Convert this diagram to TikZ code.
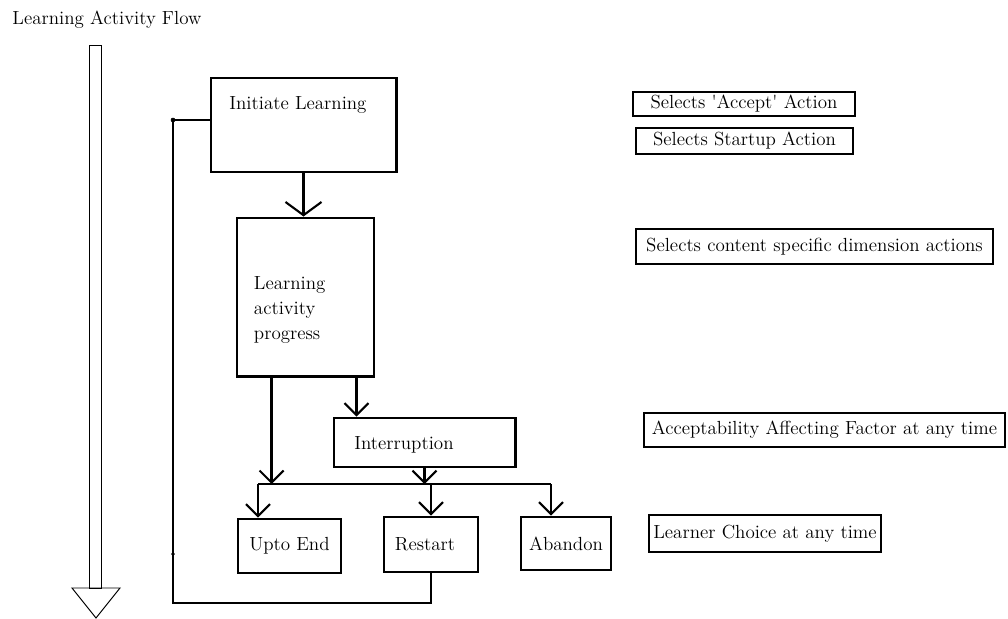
\documentclass[tikz,border=0pt]{standalone}
\usepackage{tikz}
\usetikzlibrary{calc, arrows.meta}
\tikzstyle{stepbox} = [rectangle, draw, line width=2.1pt]
\tikzstyle{note} = [rectangle, draw, line width=0.9pt, inner sep=0pt]
\tikzstyle{connector} = [draw, line width=2.1pt, -{Straight Barb[length=0.3cm, width=0.6cm, line width=1.5pt]}]
\tikzstyle{wideconnector} = [draw, line width=2.1pt, -{Straight Barb[length=0.33cm, width=0.9cm, line width=1.5pt]}]
\tikzstyle{link} = [draw, line width=2.1pt]

\begin{document}
\begin{tikzpicture}[x=0.025cm, y=-0.025cm, every node/.style={font=\fontsize{13.5}{17.8}\selectfont}]
        \useasboundingbox (0,0) rectangle (1008,619);

        \node (title) at (107,20) {Learning Activity Flow};
        \draw[line width=0.7pt] (89,45) rectangle (101,588);
        \draw[line width=0.7pt] (72,588) -- (120,588) -- (96,618) -- cycle;

        \node[stepbox, minimum width=4.625cm, minimum height=2.35cm] (Initiate) at (303.5,125) {};
        \node (InitiateText) at (298,105) {Initiate Learning};

        \node[stepbox, minimum width=3.425cm, minimum height=3.95cm] (Progress) at (305.5,297) {};
        \node[anchor=west, align=left] (ProgressText) at (249,310) {Learning\\activity\\progress};

        \node[stepbox, minimum width=4.525cm, minimum height=1.225cm] (Interruption) at (424.5,442.5) {};
        \node (InterruptionText) at (404,445) {Interruption};

        \node[stepbox, minimum width=2.575cm, minimum height=1.35cm] (UptoEnd) at (289.5,546) {Upto End};
        \node[stepbox, minimum width=2.35cm, minimum height=1.375cm] (Restart) at (431,544.5) {};
        \node (RestartText) at (425,544) {Restart};
        \node[stepbox, minimum width=2.25cm, minimum height=1.325cm] (Abandon) at (566,543.5) {Abandon};

        \node[note, minimum width=5.55cm, minimum height=0.6cm] (AcceptNote) at (744,104) {Selects \textquotesingle Accept\textquotesingle{} Action};
        \node[note, minimum width=5.425cm, minimum height=0.65cm] (StartupNote) at (744.5,141) {Selects Startup Action};
        \node[note, minimum width=8.925cm, minimum height=0.875cm] (ContentNote) at (814.5,246.5) {Selects content specific dimension actions};
        \node[note, minimum width=9.025cm, minimum height=0.85cm] (FactorNote) at (824.5,430) {Acceptability Affecting Factor at any time};
        \node[note, minimum width=5.8cm, minimum height=0.925cm] (ChoiceNote) at (765,533.5) {Learner Choice at any time};

        \coordinate (busL) at (258,484);
        \coordinate (busR) at (551,484);
        \coordinate (back) at (173,603);
        \coordinate (entry) at (173,120);
        \coordinate (progL) at ($(Progress.south west)+(36,0)$);
        \coordinate (progR) at ($(Progress.south east)+(-19,0)$);

        \draw[wideconnector] (Initiate.south) -- (Initiate.south |- Progress.north);
        \draw[connector] (progL) -- (progL |- busL);
        \draw[connector] (progR) -- (progR |- Interruption.north);
        \draw[connector] (Interruption.south) -- (Interruption.south |- busL);

        \draw[link] (busL) -- (busR);
        \draw[connector] (busL) -- (busL |- UptoEnd.north);
        \draw[connector] (Restart.north |- busL) -- (Restart.north);
        \draw[connector] (busR) -- (busR |- Abandon.north);

        \draw[link] (Restart.south) |- (back) -- (entry) -- (entry -| Initiate.west);

        \filldraw[color=black] (entry) circle (2);
        \filldraw[color=black] (173,554) circle (1.5);

    \end{tikzpicture}
\end{document}
